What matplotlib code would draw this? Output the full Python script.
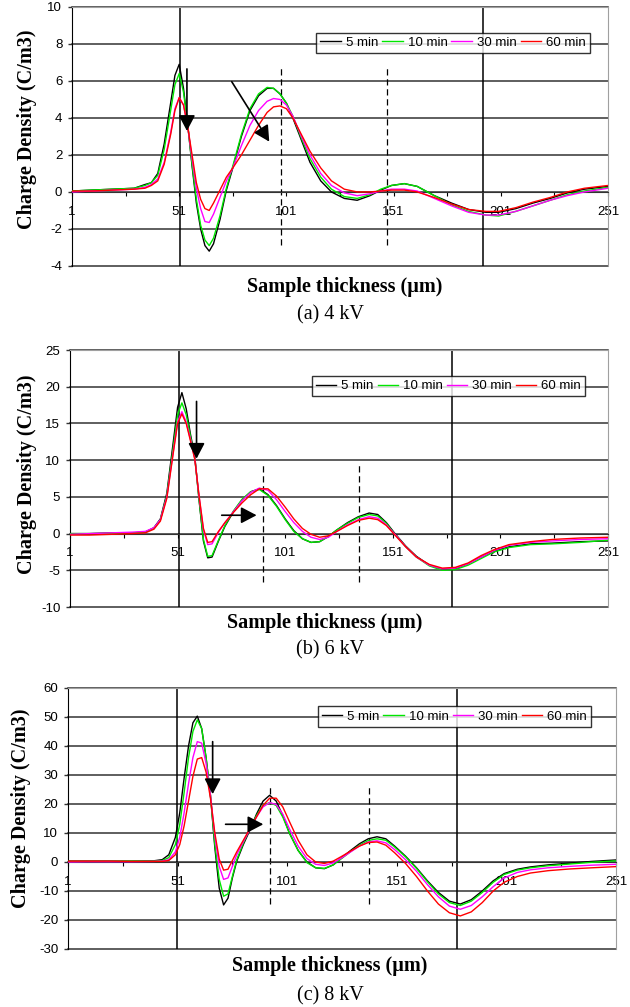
import matplotlib
matplotlib.use("Agg")
import matplotlib.pyplot as plt

plt.rcParams["font.family"] = ["Liberation Sans", "DejaVu Sans"]
plt.rcParams["axes.unicode_minus"] = False

series_names = ["5 min", "10 min", "30 min", "60 min"]
series_colors = ["#000000", "#00e600", "#ff00ff", "#ff0000"]
x_ticks = [1, 26, 51, 76, 101, 126, 151, 176, 201, 226, 251]
x_tick_labels = ["1", "", "51", "", "101", "", "151", "", "201", "", "251"]

# (a) 4 kV
x_4kv = [1, 10, 20, 30, 35, 38, 41, 44, 47, 49, 51, 53, 55, 57, 59, 61, 63, 65, 67, 70,
         73, 76, 80, 84, 88, 92, 95, 98, 101, 104, 108, 112, 117, 122, 128, 134, 140, 145,
         150, 156, 162, 170, 178, 186, 194, 200, 208, 216, 224, 232, 240, 251]
a_5min = [0.05, 0.1, 0.15, 0.2, 0.4, 0.5, 1.0, 2.6, 4.8, 6.3, 6.9, 5.6, 3.6, 1.4, -0.6, -2.0,
          -2.9, -3.2, -2.8, -1.5, 0.1, 1.3, 3.0, 4.4, 5.2, 5.6, 5.6, 5.3, 4.8, 4.0, 2.8, 1.6,
          0.6, 0.0, -0.35, -0.45, -0.2, 0.1, 0.35, 0.45, 0.3, -0.2, -0.6, -0.95, -1.1, -1.1,
          -0.9, -0.6, -0.35, -0.05, 0.15, 0.3]
a_10min = [0.05, 0.1, 0.15, 0.2, 0.35, 0.5, 0.9, 2.3, 4.4, 5.8, 6.4, 5.4, 3.6, 1.5, -0.4, -1.8,
           -2.6, -2.9, -2.5, -1.3, 0.2, 1.4, 3.1, 4.5, 5.3, 5.65, 5.6, 5.3, 4.8, 4.1, 2.9, 1.8,
           0.8, 0.15, -0.25, -0.35, -0.15, 0.15, 0.35, 0.45, 0.3, -0.2, -0.7, -1.05, -1.25,
           -1.3, -1.05, -0.75, -0.45, -0.15, 0.05, 0.25]
a_30min = [0.0, 0.05, 0.1, 0.15, 0.25, 0.4, 0.7, 1.6, 3.2, 4.5, 5.1, 4.7, 3.5, 1.8, 0.2, -0.9,
           -1.6, -1.65, -1.2, -0.3, 0.6, 1.3, 2.5, 3.6, 4.4, 4.9, 5.05, 5.0, 4.7, 4.1, 3.0, 2.0,
           1.0, 0.35, -0.05, -0.2, -0.1, 0.05, 0.15, 0.15, 0.05, -0.35, -0.75, -1.1, -1.25,
           -1.25, -1.05, -0.75, -0.45, -0.2, 0.0, 0.2]
a_60min = [0.05, 0.05, 0.1, 0.15, 0.2, 0.35, 0.6, 1.5, 3.1, 4.4, 5.1, 4.7, 3.5, 2.0, 0.5, -0.4,
           -0.9, -1.0, -0.6, 0.1, 0.8, 1.3, 2.0, 2.8, 3.6, 4.3, 4.6, 4.65, 4.5, 4.0, 3.1, 2.2,
           1.3, 0.6, 0.15, 0.0, 0.0, 0.05, 0.1, 0.1, 0.0, -0.3, -0.65, -0.95, -1.05, -1.05,
           -0.85, -0.55, -0.3, 0.0, 0.2, 0.35]

# (b) 6 kV
x_6kv = [1, 10, 20, 30, 36, 40, 43, 46, 49, 51, 53, 55, 57, 59, 61, 63, 65, 67, 70, 73, 77,
         81, 85, 89, 93, 97, 101, 105, 109, 113, 117, 121, 125, 130, 135, 140, 144, 148, 152,
         157, 162, 168, 174, 180, 186, 192, 198, 205, 215, 225, 238, 251]
b_5min = [0.0, 0.0, 0.1, 0.1, 0.2, 0.8, 2.0, 5.5, 12.5, 17.2, 19.2, 17.0, 13.5, 10.5, 4.5,
          -1.0, -3.3, -3.2, -1.0, 1.0, 3.0, 4.6, 5.7, 6.1, 5.3, 3.8, 2.0, 0.4, -0.7, -1.2,
          -1.1, -0.4, 0.5, 1.5, 2.3, 2.8, 2.6, 1.5, 0.0, -1.7, -3.1, -4.3, -4.9, -4.8, -4.1,
          -3.2, -2.4, -1.8, -1.4, -1.3, -1.1, -1.0]
b_10min = [0.0, 0.0, 0.05, 0.1, 0.2, 0.7, 1.9, 5.2, 11.8, 16.2, 17.8, 16.2, 13.2, 10.3, 4.6,
           -0.8, -3.1, -3.0, -0.9, 1.1, 3.1, 4.7, 5.7, 6.0, 5.2, 3.7, 1.9, 0.3, -0.7, -1.2,
           -1.1, -0.4, 0.5, 1.4, 2.2, 2.6, 2.4, 1.4, -0.1, -1.8, -3.2, -4.4, -5.0, -4.9, -4.3,
           -3.4, -2.5, -1.9, -1.5, -1.4, -1.2, -0.9]
b_30min = [-0.1, 0.0, 0.1, 0.2, 0.3, 0.8, 1.9, 5.0, 11.2, 15.2, 16.6, 15.2, 12.8, 10.2, 5.0,
           0.5, -1.5, -1.4, 0.2, 1.5, 3.0, 4.5, 5.6, 6.2, 5.9, 4.6, 3.0, 1.5, 0.3, -0.5, -0.8,
           -0.5, 0.3, 1.2, 1.9, 2.3, 2.1, 1.2, -0.1, -1.8, -3.2, -4.3, -4.8, -4.7, -4.1, -3.2,
           -2.3, -1.6, -1.2, -1.0, -0.8, -0.7]
b_60min = [-0.2, -0.2, -0.1, 0.0, 0.1, 0.6, 1.7, 4.8, 11.0, 15.0, 16.3, 15.0, 12.6, 10.1, 5.1,
           0.7, -1.2, -1.1, 0.3, 1.5, 2.9, 4.2, 5.3, 6.1, 6.1, 5.1, 3.6, 2.0, 0.7, -0.1, -0.5,
           -0.3, 0.3, 1.1, 1.8, 2.1, 1.9, 1.1, -0.2, -1.8, -3.2, -4.2, -4.7, -4.6, -4.0, -3.0,
           -2.2, -1.5, -1.1, -0.8, -0.6, -0.5]

# (c) 8 kV
x_8kv = [1, 10, 20, 30, 40, 44, 47, 50, 52, 54, 56, 58, 60, 62, 64, 66, 68, 70, 72, 74, 76,
         78, 81, 84, 87, 90, 93, 96, 99, 102, 106, 110, 114, 118, 122, 126, 130, 134, 138,
         142, 146, 150, 155, 160, 165, 170, 175, 180, 185, 190, 195, 200, 206, 212, 220,
         230, 240, 251]
c_5min = [0.3, 0.3, 0.3, 0.3, 0.4, 0.8, 2.5, 8.5, 17, 29, 40, 48, 50.3, 46, 36, 23, 5, -9,
          -14.8, -12.5, -5.5, 0.3, 6, 11, 16.5, 21, 23, 21, 16, 10, 4, 0, -2, -2.3, -1, 1.5,
          4, 6.3, 8, 8.7, 8, 5.5, 2, -2, -6.5, -10.5, -13.5, -14.5, -13, -10, -6.5, -4,
          -2.5, -1.7, -1, -0.4, 0.2, 0.7]
c_10min = [0.2, 0.2, 0.2, 0.3, 0.3, 0.5, 1.5, 6, 13, 24, 36, 45, 49, 46, 36, 23, 6, -6,
           -11.8, -11, -5, 0.8, 6.5, 11.5, 16, 19.5, 20.5, 19.5, 15.5, 10, 4, -0.2, -2, -2.2,
           -1, 1.3, 3.6, 5.8, 7.4, 8, 7.5, 5.2, 1.8, -2.2, -6.8, -11, -14, -15, -13.5, -10.5,
           -7, -4.3, -2.8, -2, -1.3, -0.7, -0.1, 0.4]
c_30min = [0.0, 0.1, 0.1, 0.1, 0.2, 0.3, 0.8, 3.5, 8.5, 17, 27, 36, 41.5, 41, 34, 23, 9, -1.5,
           -6, -5.5, -1.5, 2.5, 7, 11.3, 15.5, 19, 20.5, 19.8, 16.5, 11.5, 5.5, 1.2, -0.8,
           -1.2, -0.3, 1.5, 3.5, 5.5, 6.9, 7.3, 6.6, 4.3, 0.8, -3.2, -7.8, -12, -15.2, -16.3,
           -15, -12, -8.5, -5.5, -3.6, -2.7, -2, -1.5, -1.1, -0.8]
c_60min = [0.3, 0.3, 0.3, 0.2, 0.2, 0.2, 0.5, 2.5, 6, 12.5, 21, 29.5, 35.5, 36, 31, 22, 10, 1,
           -2.8, -2.5, 0.5, 3.5, 7.5, 11.5, 15.5, 19.5, 22, 22, 19, 14, 7.5, 2.5, 0, -0.5, 0.3,
           2, 3.8, 5.5, 6.7, 6.9, 5.8, 3.2, -0.5, -5, -10, -14.5, -17.5, -18.6, -17.2, -14,
           -10, -7, -5, -3.8, -3, -2.4, -2, -1.6]

panels = [
    dict(rect=[0.1143, 0.7359, 0.8508, 0.2572], x=x_4kv, ys=[a_5min, a_10min, a_30min, a_60min],
         ylim=(-4, 10), ystep=2, solid=[51.4, 192.7], dashed=[98.5, 147.9], dash_y=(-2.86, 6.77),
         arrows=[((54.6, 6.65), (54.6, 3.3)), ((75.5, 5.96), (93, 2.72))],
         leg=(0.711, 0.861), caption="(a) 4 kV", cap_y=315, xl=(345, 287), yl=(27, 129)),
    dict(rect=[0.1111, 0.3972, 0.8540, 0.2552], x=x_6kv, ys=[b_5min, b_10min, b_30min, b_60min],
         ylim=(-10, 25), ystep=5, solid=[51.8, 178.5], dashed=[90.7, 135.3], dash_y=(-6.6, 9.46),
         arrows=[((59.8, 18), (59.8, 10.2)), ((71.5, 2.5), (87.7, 2.5))],
         leg=(0.7035, 0.860), caption="(b) 6 kV", cap_y=650, xl=(325, 623), yl=(27, 474)),
    dict(rect=[0.1079, 0.0576, 0.8698, 0.2592], x=x_8kv, ys=[c_5min, c_10min, c_30min, c_60min],
         ylim=(-30, 60), ystep=10, solid=[50.6, 178.3], dashed=[93, 138.3], dash_y=(-14.5, 27),
         arrows=[((67, 41.5), (67, 23.4)), ((72.9, 13), (90.1, 13))],
         leg=(0.705, 0.891), caption="(c) 8 kV", cap_y=996, xl=(330, 966), yl=(21, 808)),
]

W, H = 630, 1007
fig = plt.figure(figsize=(W / 100, H / 100), dpi=100)
serif = ["Liberation Serif", "DejaVu Serif"]

for p in panels:
    ax = fig.add_axes(p["rect"])
    lo, hi = p["ylim"]
    ax.set_xlim(1, 251)
    ax.set_ylim(lo, hi)
    yt = list(range(lo, hi + 1, p["ystep"]))
    ax.set_yticks(yt)
    for v in yt:
        ax.axhline(v, color="#333333", lw=1.1, zorder=1, clip_on=False)

    for xs in p["solid"]:
        ax.axvline(xs, color="black", lw=1.1, zorder=1)
    for xd in p["dashed"]:
        ax.plot([xd, xd], p["dash_y"], color="black", lw=0.9, dashes=(5, 3), zorder=1)

    for y, name, col in zip(p["ys"], series_names, series_colors):
        ax.plot(p["x"], y, color=col, lw=1.0, label=name, zorder=3)

    for start, tip in p["arrows"]:
        ax.annotate("", xy=tip, xytext=start, zorder=5,
                    arrowprops=dict(arrowstyle="-|>,head_length=0.95,head_width=0.5",
                                    mutation_scale=10, color="black", lw=1.2,
                                    shrinkA=0, shrinkB=0))

    ax.spines["bottom"].set_position(("data", 0))
    ax.spines["bottom"].set_color("#333333")
    ax.spines["left"].set_color("black")
    ax.spines["top"].set_color("#a0a0a0")
    ax.spines["right"].set_color("#a0a0a0")
    ax.set_xticks(x_ticks)
    ax.set_xticklabels(x_tick_labels)
    ax.tick_params(axis="x", direction="out", length=3, width=0.8, pad=7, labelsize=9.5)
    ax.tick_params(axis="y", direction="out", length=3, width=1, pad=4, labelsize=9.5,
                   color="#333333")

    leg = ax.legend(loc="center", bbox_to_anchor=p["leg"], ncol=4, fontsize=9.5,
                    frameon=True, fancybox=False, handlelength=1.55, handletextpad=0.38,
                    columnspacing=0.3, borderpad=0.3, borderaxespad=0)
    leg.get_frame().set_edgecolor("black")
    leg.get_frame().set_linewidth(1.0)
    leg.set_zorder(6)

    fig.text(p["xl"][0] / W, 1 - p["xl"][1] / H, "Sample thickness (\u00b5m)",
             family=serif, weight="bold", fontsize=14.5, ha="center", va="center")
    fig.text(p["yl"][0] / W, 1 - p["yl"][1] / H, "Charge Density (C/m3)",
             family=serif, weight="bold", fontsize=14.5, ha="center", va="center",
             rotation=90)
    fig.text(330 / W, 1 - p["cap_y"] / H, p["caption"],
             family=serif, fontsize=14.5, ha="center", va="center")

fig.savefig("out.png", dpi=100, facecolor="white")
